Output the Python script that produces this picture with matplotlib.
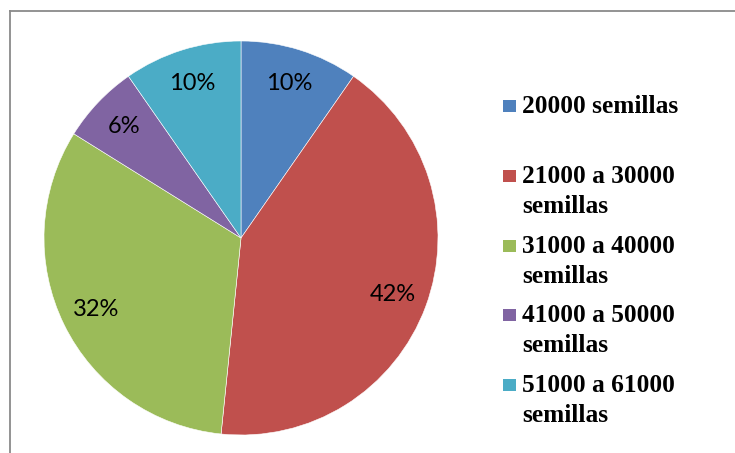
import matplotlib
matplotlib.use("Agg")
import matplotlib.pyplot as plt
from matplotlib.patches import Rectangle
from matplotlib.lines import Line2D

# Data
categories = ["20000 semillas", "21000 a 30000\nsemillas", "31000 a 40000\nsemillas",
              "41000 a 50000\nsemillas", "51000 a 61000\nsemillas"]
counts = [3, 13, 10, 2, 3]
colors = ["#4F81BD", "#C0504D", "#9BBB59", "#8064A2", "#4BACC6"]

W, H = 735, 453
fig = plt.figure(figsize=(W / 100, H / 100), dpi=100)
fig.patch.set_facecolor("white")

# Frame lines (top and left)
fig.add_artist(Line2D([9.5 / W, 9.5 / W], [0, 1 - 11 / H], transform=fig.transFigure,
                      color="#8a8a8a", lw=1.3))
fig.add_artist(Line2D([9.5 / W, 1], [1 - 11 / H, 1 - 11 / H], transform=fig.transFigure,
                      color="#8a8a8a", lw=1.3))

# Pie axes: center (241, 238) px, radius 197 px
cx, cy, r = 241, 238, 197
ax = fig.add_axes([(cx - r) / W, (H - cy - r) / H, 2 * r / W, 2 * r / H])
wedges, texts, autotexts = ax.pie(
    counts, colors=colors, startangle=90, counterclock=False,
    autopct="%1.0f%%", pctdistance=0.82, radius=1,
    wedgeprops=dict(edgecolor="white", linewidth=0.4),
    textprops=dict(family="Lato", fontsize=17, color="black"))
ax.set_xlim(-1, 1)
ax.set_ylim(-1, 1)
ax.set_aspect("equal")
ax.axis("off")

# Legend (manual)
baselines = [113, 183, 253, 322, 392]
line_gap = 30
for lab, col, by in zip(categories, colors, baselines):
    fig.add_artist(Rectangle(((503) / W, 1 - (by - 1) / H), 13 / W, 12 / H,
                             transform=fig.transFigure, facecolor=col, edgecolor="none"))
    for i, line in enumerate(lab.split("\n")):
        fig.text(522 / W, 1 - (by + i * line_gap) / H, line, family="Liberation Serif",
                 fontweight="bold", fontsize=18.3, va="baseline", ha="left", color="black")

fig.savefig("out.png", dpi=100, facecolor="white")
